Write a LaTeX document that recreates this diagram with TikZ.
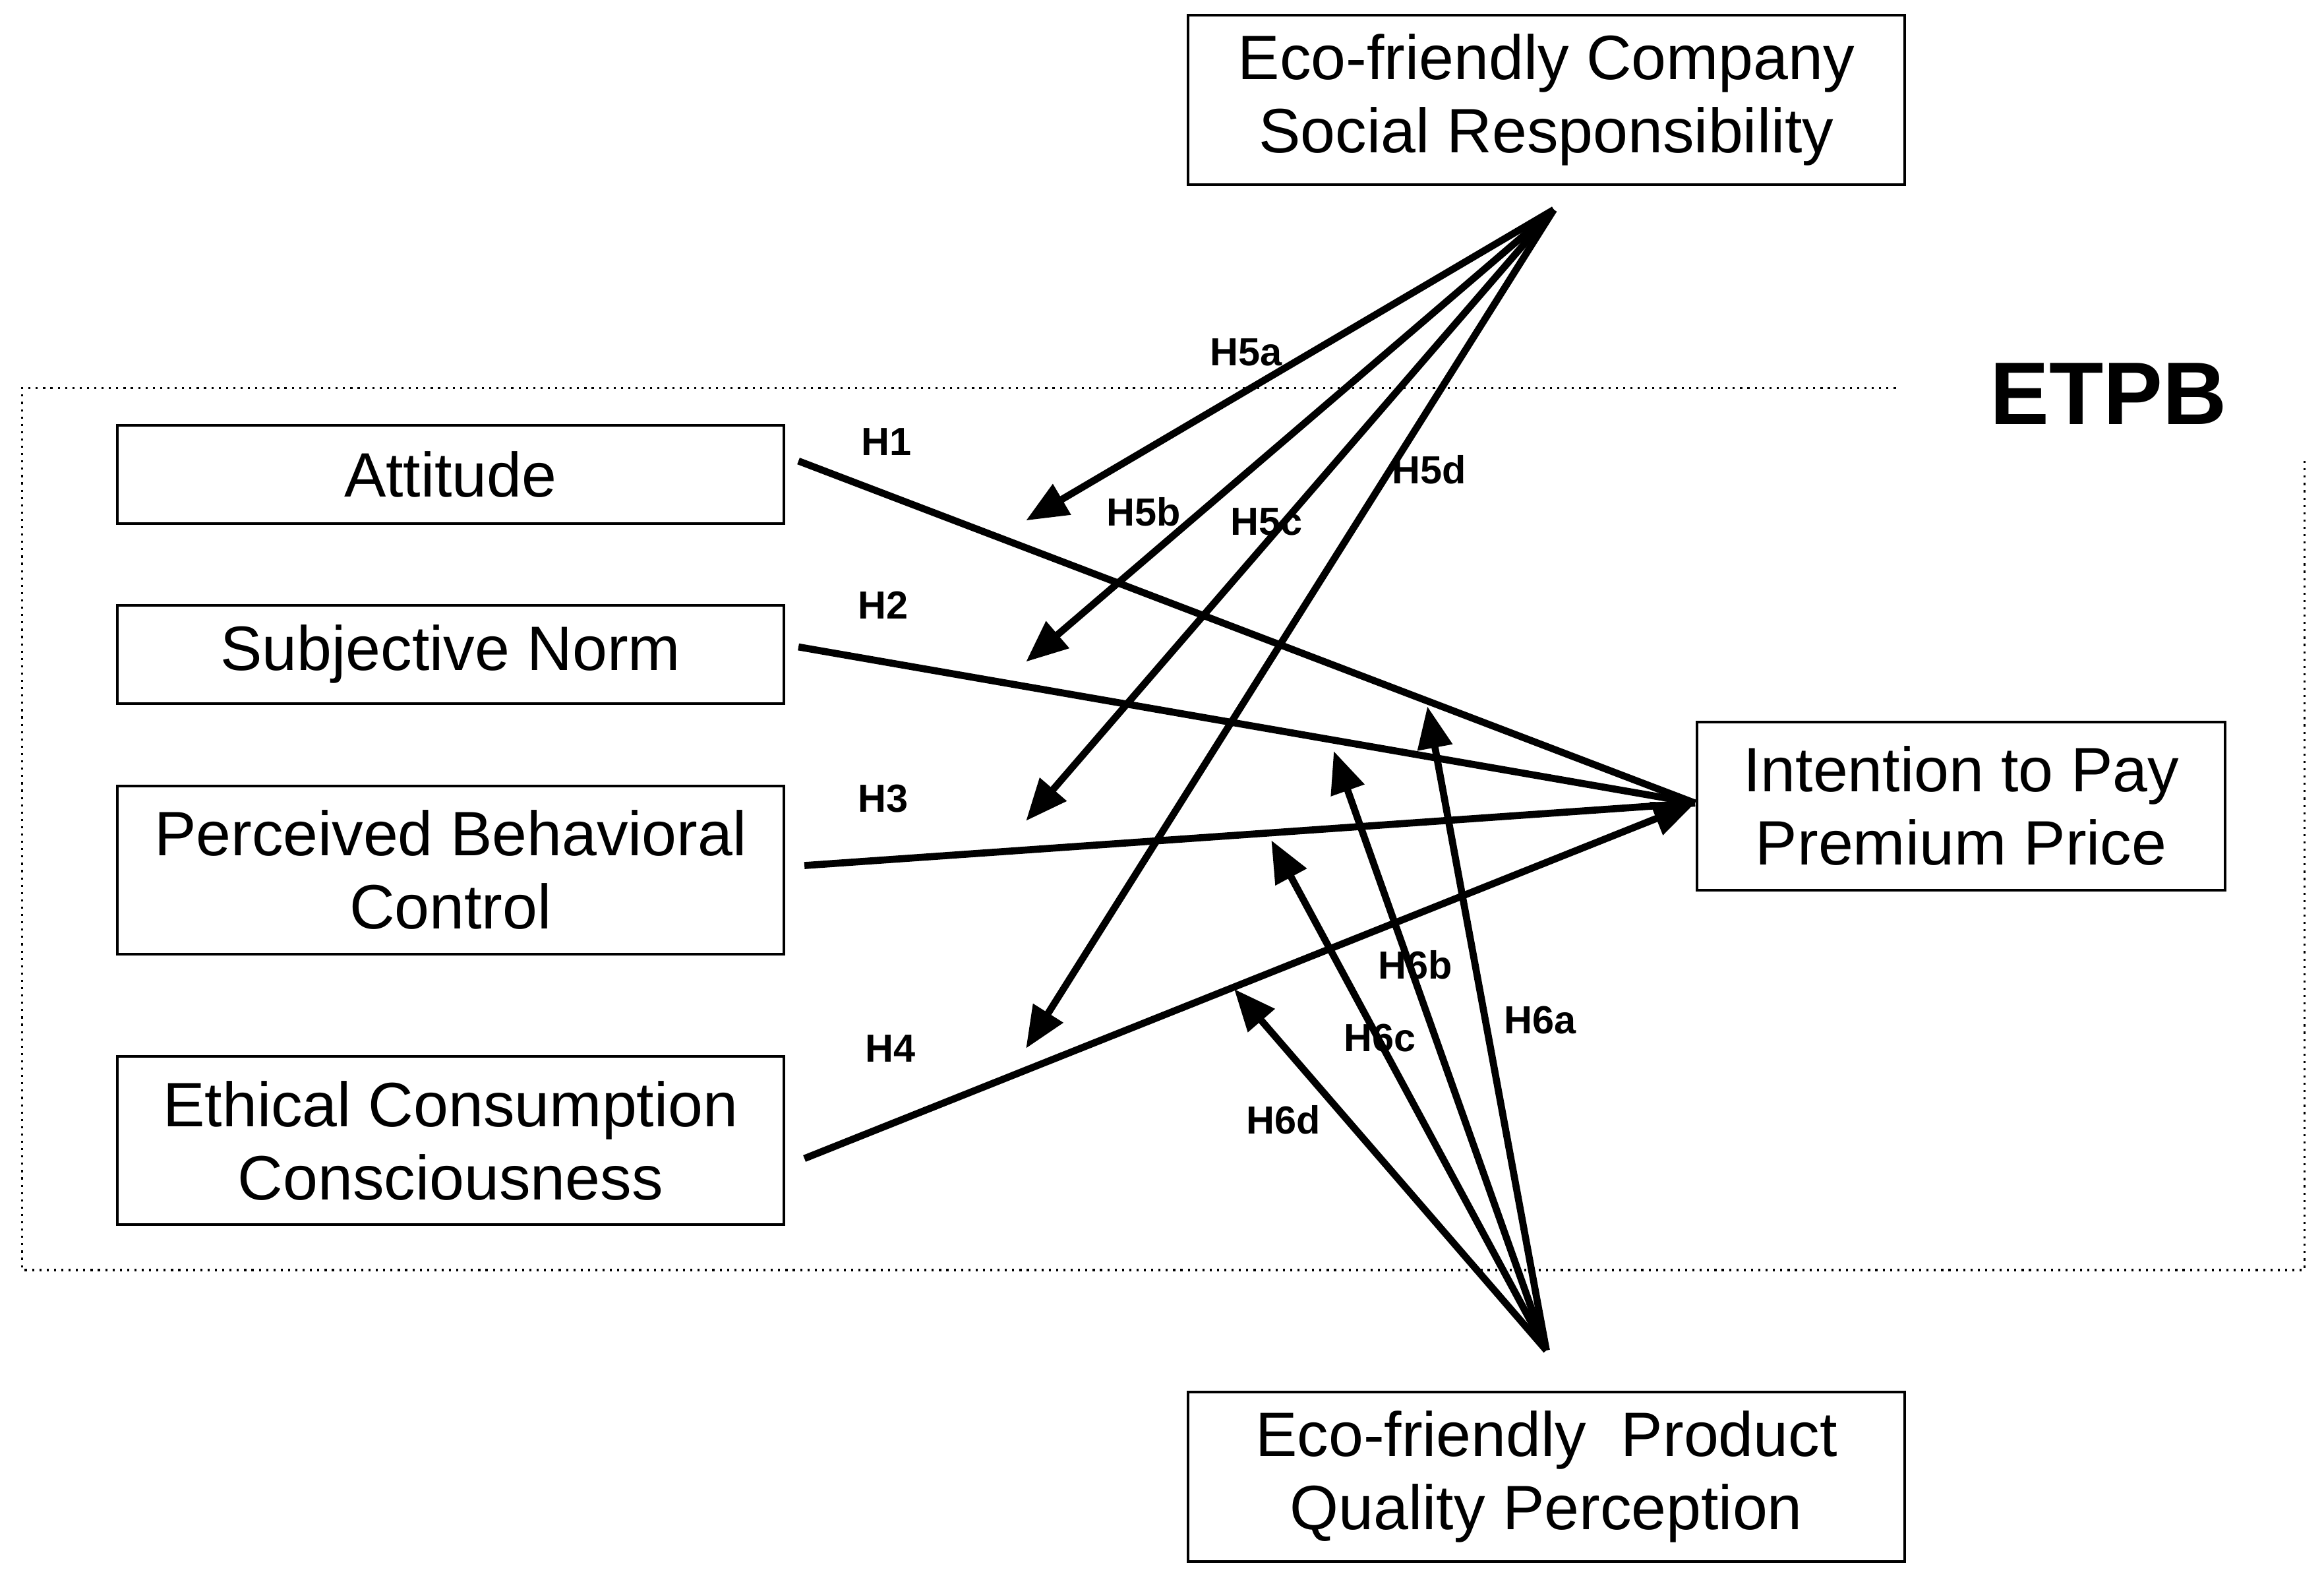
\documentclass[tikz,border=0pt]{standalone}
\usepackage{fontspec}
\setmainfont{Liberation Sans}
\usetikzlibrary{arrows.meta}
\begin{document}
\begin{tikzpicture}[x=0.02cm,y=-0.02cm,
  box/.style={draw,line width=1pt,font=\fontsize{24}{28}\selectfont,align=center,inner sep=0pt},
  lab/.style={font=\bfseries\fontsize{15}{17}\selectfont},
  arr/.style={line width=2.7pt,-{Triangle[length=16pt,width=13pt]}},
  ln/.style={line width=2.7pt}]
\useasboundingbox (0,0) rectangle (1563,1061);
\draw[dotted,line width=0.8pt] (1275,261) -- (15,261) -- (15,854) -- (1550,854) -- (1550,310);
\node[font=\bfseries\fontsize{34}{38}\selectfont] (etpb) at (1418,265) {ETPB};
\node[box,minimum width=482*0.02cm,minimum height=114*0.02cm] (csr) at (1040,67) {Eco-friendly Company\\Social Responsibility};
\node[box,minimum width=482*0.02cm,minimum height=114*0.02cm] (pqp) at (1040,993) {Eco-friendly\ \ Product\\Quality Perception};
\node[box,minimum width=448*0.02cm,minimum height=66*0.02cm] (att) at (303,319) {Attitude};
\node[box,minimum width=448*0.02cm,minimum height=66*0.02cm] (sn) at (303,440) {Subjective Norm};
\node[box,minimum width=448*0.02cm,minimum height=113*0.02cm] (pbc) at (303,585) {Perceived Behavioral\\Control};
\node[box,minimum width=448*0.02cm,minimum height=113*0.02cm] (ecc) at (303,767) {Ethical Consumption\\Consciousness};
\node[box,minimum width=355*0.02cm,minimum height=113*0.02cm] (itp) at (1319,542) {Intention to Pay\\Premium Price};
\coordinate (tip) at (1140,540);
\coordinate (s5) at (1045,141);
\coordinate (s6) at (1040,908);
\draw[ln] (537,310) -- (tip);
\draw[ln] (537,435) -- (tip);
\draw[ln] (541,582) -- (tip);
\draw[arr] (541,779) -- (tip);
\draw[arr] (s5) -- (690,350);
\draw[arr] (s5) -- (690,445);
\draw[arr] (s5) -- (690,552);
\draw[arr] (s5) -- (690,705);
\draw[arr] (s6) -- (960,475);
\draw[arr] (s6) -- (897,505);
\draw[arr] (s6) -- (855,565);
\draw[arr] (s6) -- (830,665);
\node[lab] (h1) at (596,297) {H1};
\node[lab] (h2) at (594,407) {H2};
\node[lab] (h3) at (594,537) {H3};
\node[lab] (h4) at (599,705) {H4};
\node[lab] (h5a) at (838,237) {H5a};
\node[lab] (h5b) at (769,344) {H5b};
\node[lab] (h5c) at (852,351) {H5c};
\node[lab] (h5d) at (961,316) {H5d};
\node[lab] (h6a) at (1036,686) {H6a};
\node[lab] (h6b) at (952,649) {H6b};
\node[lab] (h6c) at (928,698) {H6c};
\node[lab] (h6d) at (863,753) {H6d};
\end{tikzpicture}
\end{document}
